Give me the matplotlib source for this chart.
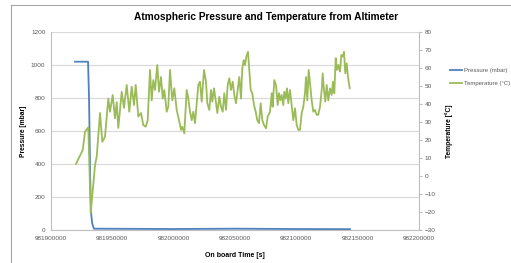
import matplotlib
matplotlib.use("Agg")
import matplotlib.pyplot as plt
from matplotlib.lines import Line2D
from matplotlib.ticker import FuncFormatter

# ── Data ──────────────────────────────────────────────────────────────────────
press_time = [981919600, 981930200, 981931000, 981932000, 981932700,
              981933600, 981935000, 982000000, 982050000, 982100000, 982143700]
press_mbar = [1020, 1020, 800, 300, 100, 40, 8, 6, 8, 6, 5]

temp_time = [
    981920380, 981925840, 981927720, 981930410, 981932360, 981935870, 981937250,
    981939950, 981941820, 981944020, 981946710, 981948100, 981950300, 981952170,
    981953560, 981954860, 981957640, 981959510, 981961710, 981963830, 981965790,
    981967660, 981969050, 981971170, 981973370, 981975240, 981977200, 981978830,
    981980700, 981982090, 981983400, 981984780, 981986660, 981988040, 981989670,
    981991060, 981992360, 981994320, 981995620, 981997010, 981998880, 982000510,
    982002470, 982004350, 982005980, 982007040, 982008670, 982010620, 982011930,
    982013310, 982014700, 982016000, 982017390, 982018780, 982020080, 982021460,
    982022850, 982024730, 982026360, 982027420, 982029050, 982030430, 982031490,
    982032880, 982034260, 982035570, 982037200, 982038580, 982039970, 982041270,
    982042660, 982044050, 982045350, 982046740, 982048120, 982049430, 982050810,
    982052200, 982053500, 982054890, 982055950, 982057090, 982058150, 982059210,
    982060590, 982061650, 982062800, 982064100, 982065490, 982066870, 982068180,
    982069560, 982070950, 982072250, 982073640, 982075270, 982076650, 982078530,
    982079920, 982080730, 982082030, 982083420, 982084810, 982085870, 982086930,
    982088070, 982089370, 982090190, 982091330, 982092390, 982093450, 982094830,
    982096220, 982097520, 982098910, 982100300, 982101600, 982102990, 982104370,
    982105680, 982107060, 982107880, 982108940, 982110080, 982111140, 982112520,
    982113830, 982115210, 982116600, 982117900, 982119290, 982120680, 982121490,
    982122550, 982123610, 982124750, 982126060, 982127440, 982128830, 982129890,
    982130950, 982132090, 982133150, 982134210, 982135590, 982136650, 982137790,
    982138850, 982139910, 982141050, 982142110, 982143500,
]
temp_c = [
    6.7, 14.4, 24.6, 27.0, -20.6, 6.0, 10.7,
    35.0, 19.0, 21.8, 43.0, 35.7, 45.0, 32.0,
    41.0, 26.7, 46.8, 37.8, 50.6, 35.7, 49.6,
    39.4, 50.6, 33.0, 35.0, 28.3, 27.4, 31.0,
    58.9, 42.0, 53.3, 47.8, 61.7, 46.8, 55.0,
    43.0, 47.8, 35.7, 38.5, 58.9, 42.0, 48.7,
    36.7, 31.0, 25.6, 27.4, 23.7, 47.8, 43.0,
    35.7, 31.0, 35.7, 29.3, 40.4, 50.6, 52.4,
    41.3, 58.9, 52.4, 40.4, 36.7, 47.8, 41.3,
    48.7, 42.0, 35.0, 44.0, 38.5, 35.7, 46.0,
    36.7, 50.6, 54.3, 47.8, 52.4, 45.0, 40.4,
    47.8, 55.0, 43.0, 59.8, 64.4, 61.7, 66.3,
    69.0, 58.9, 47.8, 46.0, 39.4, 35.7, 31.0,
    29.3, 40.4, 31.0, 28.3, 26.5, 33.0, 35.7,
    46.0, 38.5, 53.3, 50.6, 39.4, 46.0, 42.0,
    45.0, 39.4, 46.8, 43.0, 48.7, 40.4, 47.8,
    39.4, 31.0, 37.6, 28.3, 25.6, 25.6, 35.0,
    38.5, 46.0, 55.0, 42.0, 58.9, 51.5, 42.0,
    35.7, 36.7, 34.0, 34.0, 38.5, 47.8, 57.0,
    47.8, 41.3, 50.6, 42.0, 48.7, 45.0, 52.4,
    46.0, 65.4, 58.9, 61.7, 58.0, 67.2, 66.3,
    69.0, 57.0, 62.6, 55.0, 48.7,
]

x_ticks = [981900000, 981950000, 982000000, 982050000, 982100000, 982150000, 982200000]
p_ticks = [0, 200, 400, 600, 800, 1000, 1200]
t_ticks = [-30, -20, -10, 0, 10, 20, 30, 40, 50, 60, 70, 80]

# ── Style ─────────────────────────────────────────────────────────────────────
BLUE = "#4F81BD"
GREEN = "#9BBB59"
GRID = "#D9D9D9"
AXIS = "#BFBFBF"
TICK_TXT = "#595959"
FONT = "Liberation Sans"

fig = plt.figure(figsize=(5.11, 2.63), dpi=100)
fig.patch.set_facecolor("white")

# chart-area frame (only left and top edges are visible in the crop)
fig.add_artist(Line2D([11 / 511, 11 / 511], [0, 1 - 5 / 263], color="#A6A6A6", lw=0.8))
fig.add_artist(Line2D([11 / 511, 1], [1 - 5 / 263, 1 - 5 / 263], color="#A6A6A6", lw=0.8))

ax = fig.add_axes([51 / 511, 1 - 230 / 263, 368 / 511, 198 / 263])
ax2 = ax.twinx()

ax.plot(press_time, press_mbar, color=BLUE, lw=1.3, zorder=3)
ax2.plot(temp_time, temp_c, color=GREEN, lw=1.3, zorder=3)

ax.set_xlim(x_ticks[0], x_ticks[-1])
ax.set_ylim(p_ticks[0], p_ticks[-1])
ax2.set_ylim(t_ticks[0], t_ticks[-1])
ax.set_xticks(x_ticks)
ax.set_yticks(p_ticks)
ax2.set_yticks(t_ticks)
ax.xaxis.set_major_formatter(FuncFormatter(lambda v, p: f"{int(round(v))}"))

ax.yaxis.grid(True, color=GRID, lw=0.8)
ax.set_axisbelow(True)
for a in (ax, ax2):
    for s in a.spines.values():
        s.set_visible(False)
ax.spines["left"].set_visible(True)
ax.spines["bottom"].set_visible(True)
ax2.spines["right"].set_visible(True)
for s in (ax.spines["left"], ax.spines["bottom"], ax2.spines["right"]):
    s.set_color(AXIS)
    s.set_linewidth(0.8)

ax.tick_params(axis="both", length=0, labelsize=4.6, labelcolor=TICK_TXT, pad=4)
ax2.tick_params(axis="y", length=2, color=AXIS, labelsize=4.6, labelcolor=TICK_TXT, pad=2)
for lab in ax.get_xticklabels() + ax.get_yticklabels() + ax2.get_yticklabels():
    lab.set_fontfamily(FONT)

ax.set_ylabel("Pressure [mbar]", fontsize=4.8, fontweight="bold", family=FONT, labelpad=3)
ax2.set_ylabel("Temperature [°C]", fontsize=4.8, fontweight="bold", family=FONT, labelpad=7)
ax.set_xlabel("On board Time [s]", fontsize=5, fontweight="bold", family=FONT, labelpad=8)

fig.text(266 / 511, 1 - 17 / 263, "Atmospheric Pressure and Temperature from Altimeter",
         ha="center", va="center", fontsize=7.3, fontweight="bold", family=FONT)

# legend (outside the plot area, right side)
handles = [Line2D([], [], color=BLUE, lw=1.3), Line2D([], [], color=GREEN, lw=1.3)]
leg = fig.legend(handles, ["Pressure (mbar)", "Temperature (°C)"],
                 loc="center left", bbox_to_anchor=(450 / 511, 1 - 77 / 263),
                 frameon=False, fontsize=4.3, handlelength=2.0, handletextpad=0.3,
                 labelspacing=1.2, borderaxespad=0, borderpad=0)
for t in leg.get_texts():
    t.set_color(TICK_TXT)
    t.set_fontfamily(FONT)

plt.savefig("out.png", dpi=100, facecolor="white")
plt.close()
